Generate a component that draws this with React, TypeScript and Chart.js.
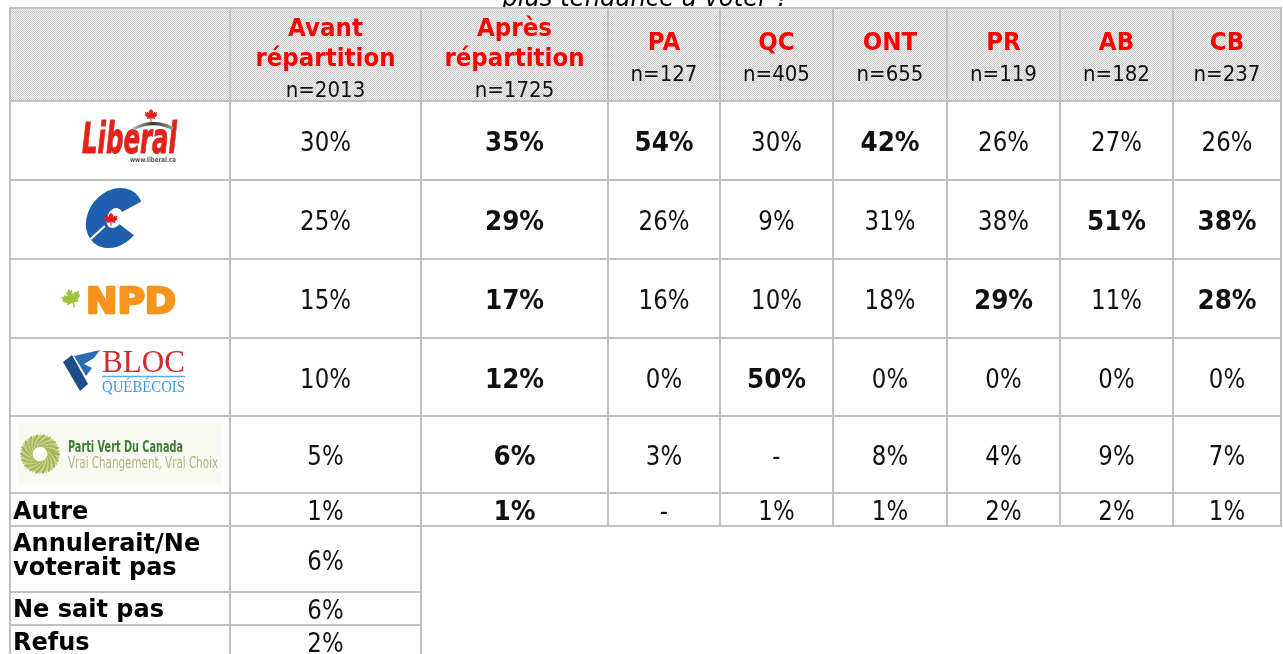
import React, { useEffect, useRef } from "react";
import { Chart, registerables } from "chart.js";

Chart.register(...registerables);

// ---------------- DATA ----------------
const title = "plus tendance à voter ?";
const columnHeaders: string[][] = [
  ["Avant", "répartition"],
  ["Après", "répartition"],
  ["PA"],
  ["QC"],
  ["ONT"],
  ["PR"],
  ["AB"],
  ["CB"],
];
const sampleSizes = [2013, 1725, 127, 405, 655, 119, 182, 237];
const parties = ["Libéral", "Conservateur", "NPD", "Bloc Québécois", "Parti Vert", "Autre"];
const avantRepartition = [30, 25, 15, 10, 5, 1];
const apresRepartition = [35, 29, 17, 12, 6, 1];
const pa = [54, 26, 16, 0, 3, null];
const qc = [30, 9, 10, 50, null, 1];
const ont = [42, 31, 18, 0, 8, 1];
const pr = [26, 38, 29, 0, 4, 2];
const ab = [27, 51, 11, 0, 9, 2];
const cb = [26, 38, 28, 0, 7, 1];
const otherLabels: string[][] = [["Annulerait/Ne", "voterait pas"], ["Ne sait pas"], ["Refus"]];
const otherValues = [6, 6, 2];
// [column index, party index] of values shown in bold (column 1 entirely bold)
const boldColumn = 1;
const boldCells: [number, number][] = [[2, 0], [4, 0], [6, 1], [7, 1], [5, 2], [7, 2], [3, 3]];

const series = [avantRepartition, apresRepartition, pa, qc, ont, pr, ab, cb];

// ---------------- LAYOUT ----------------
const W = 1283;
const H = 654;
const LEFT = 10;
const TOP = 8;
const COL_WIDTHS = [220, 191, 187, 112, 113, 114, 113, 113, 108];
const ROW_HEIGHTS = [93, 79, 79, 79, 78, 77, 33, 66, 33, 33];

function edges(start: number, sizes: number[]) {
  const out = [start];
  sizes.forEach((s) => out.push(out[out.length - 1] + s));
  return out;
}
const colEdges = edges(LEFT, COL_WIDTHS);
const rowEdges = edges(TOP, ROW_HEIGHTS);
const colMid = (c: number) => (colEdges[c] + colEdges[c + 1]) / 2;
const rowMid = (r: number) => (rowEdges[r] + rowEdges[r + 1]) / 2;

type Cell = { x: number; y: number; text: string; bold: boolean };
const cells: Cell[] = [];
series.forEach((vals, c) => {
  vals.forEach((v, r) => {
    const bold = c === boldColumn || boldCells.some(([bc, br]) => bc === c && br === r);
    cells.push({ x: colMid(c + 1), y: rowMid(r + 1), text: v === null ? "-" : `${v}%`, bold });
  });
});
otherValues.forEach((v, i) => {
  cells.push({ x: colMid(1), y: rowMid(7 + i), text: `${v}%`, bold: false });
});

// ---------------- DRAW HELPERS ----------------
const FAMILY = "'DejaVu Sans', Tahoma, Verdana, sans-serif";
const SERIF = "'Liberation Serif', 'DejaVu Serif', serif";

function txt(
  ctx: CanvasRenderingContext2D,
  s: string,
  x: number,
  y: number,
  font: string,
  color: string,
  align: CanvasTextAlign,
  sx = 1,
  fitWidth?: number,
  strokeW = 0
) {
  ctx.save();
  ctx.font = font;
  ctx.fillStyle = color;
  ctx.textBaseline = "alphabetic";
  ctx.textAlign = align;
  let scale = sx;
  if (fitWidth) scale = fitWidth / ctx.measureText(s).width;
  ctx.translate(x, y);
  ctx.scale(scale, 1);
  ctx.fillText(s, 0, 0);
  if (strokeW > 0) {
    ctx.strokeStyle = color;
    ctx.lineWidth = strokeW;
    ctx.lineJoin = "round";
    ctx.strokeText(s, 0, 0);
  }
  ctx.restore();
}

const LEAF = [
  [0, -1], [0.13, -0.72], [0.28, -0.8], [0.22, -0.38], [0.46, -0.62], [0.52, -0.48], [0.8, -0.55],
  [0.68, -0.28], [0.82, -0.18], [0.45, 0.12], [0.52, 0.3], [0.06, 0.22], [0.06, 0.65], [-0.06, 0.65],
  [-0.06, 0.22], [-0.52, 0.3], [-0.45, 0.12], [-0.82, -0.18], [-0.68, -0.28], [-0.8, -0.55],
  [-0.52, -0.48], [-0.46, -0.62], [-0.22, -0.38], [-0.28, -0.8], [-0.13, -0.72],
];
function leaf(ctx: CanvasRenderingContext2D, x: number, y: number, s: number, color: string, rot = 0) {
  ctx.save();
  ctx.translate(x, y);
  ctx.rotate(rot);
  ctx.beginPath();
  LEAF.forEach(([a, b], i) => (i ? ctx.lineTo(a * s, b * s) : ctx.moveTo(a * s, b * s)));
  ctx.closePath();
  ctx.fillStyle = color;
  ctx.fill();
  ctx.restore();
}
function poly(ctx: CanvasRenderingContext2D, cx: number, cy: number, pts: number[][], color: string) {
  ctx.beginPath();
  pts.forEach(([a, b], i) => (i ? ctx.lineTo(cx + a, cy + b) : ctx.moveTo(cx + a, cy + b)));
  ctx.closePath();
  ctx.fillStyle = color;
  ctx.fill();
}

function drawLogo(ctx: CanvasRenderingContext2D, idx: number, cx: number, cy: number) {
  if (idx === 0) {
    // Liberal
    txt(ctx, "Liberal", cx - 38, cy + 12.5, `italic bold 42px ${FAMILY}`, "#e2231a", "left", 1, 95, 1);
    const g = ctx.createLinearGradient(cx + 13, 0, cx + 53, 0);
    g.addColorStop(0, "#bbbbbb");
    g.addColorStop(0.5, "#333333");
    g.addColorStop(1, "#999999");
    ctx.save();
    ctx.strokeStyle = g;
    ctx.lineWidth = 3;
    ctx.beginPath();
    ctx.moveTo(cx + 13, cy - 11.5);
    ctx.quadraticCurveTo(cx + 33, cy - 22, cx + 53, cy - 12);
    ctx.stroke();
    ctx.restore();
    leaf(ctx, cx + 31, cy - 24, 8, "#e2231a");
    txt(ctx, "www.liberal.ca", cx + 10, cy + 21, `bold 7px ${FAMILY}`, "#555", "left", 1, 46);
  } else if (idx === 1) {
    // Conservative
    ctx.save();
    ctx.translate(cx - 5.5, cy - 1.5);
    ctx.transform(1, 0, -0.2, 1, 0, 0);
    ctx.strokeStyle = "#1f5fae";
    ctx.lineWidth = 20;
    ctx.lineCap = "butt";
    ctx.beginPath();
    ctx.ellipse(0, 0, 18, 20, 0, -0.19 * Math.PI, 0.2 * Math.PI, true);
    ctx.stroke();
    ctx.strokeStyle = "#ffffff";
    ctx.lineWidth = 2.5;
    ctx.beginPath();
    ctx.moveTo(-8, 8);
    ctx.lineTo(-26, 28);
    ctx.stroke();
    ctx.restore();
    leaf(ctx, cx - 9, cy + 1, 8.5, "#e31b23");
  } else if (idx === 2) {
    // NPD
    leaf(ctx, cx - 48, cy + 1.5, 12, "#9cc33b", -0.35);
    txt(ctx, "NPD", cx - 34, cy + 14.5, `bold 35px ${FAMILY}`, "#f7941d", "left", 1, 90, 2.5);
  } else if (idx === 3) {
    // Bloc
    poly(ctx, cx, cy, [[-57, -15], [-48, -22], [-32, 7], [-40, 14]], "#1d4e89");
    poly(ctx, cx, cy, [[-46, -21], [-20, -27], [-26, -19], [-36, -13], [-28, -9], [-34, -1]], "#2a6db5");
    txt(ctx, "BLOC", cx - 18, cy - 5, `32px ${SERIF}`, "#d3282e", "left", 1, 83);
    ctx.save();
    ctx.strokeStyle = "#5aaee6";
    ctx.lineWidth = 1.5;
    ctx.beginPath();
    ctx.moveTo(cx - 18, cy - 0.5);
    ctx.lineTo(cx + 65, cy - 0.5);
    ctx.stroke();
    ctx.restore();
    txt(ctx, "QUÉBÉCOIS", cx - 18, cy + 15, `17px ${SERIF}`, "#3a9be0", "left", 1, 83);
  } else if (idx === 4) {
    // Parti Vert
    ctx.save();
    ctx.fillStyle = "#f9f9f3";
    ctx.fillRect(cx - 102, cy - 31, 204, 60);
    const sx0 = cx - 80;
    const sy0 = cy - 0.5;
    for (let i = 0; i < 36; i++) {
      const a = (i * Math.PI * 2) / 36;
      ctx.save();
      ctx.translate(sx0, sy0);
      ctx.rotate(a);
      ctx.beginPath();
      ctx.ellipse(13, 0, 8, 2.2, 0.6, 0, Math.PI * 2);
      ctx.fillStyle = i % 2 ? "#a3b655" : "#c6d18c";
      ctx.fill();
      ctx.restore();
    }
    ctx.beginPath();
    ctx.arc(sx0, sy0, 4, 0, Math.PI * 2);
    ctx.fillStyle = "#ffffff";
    ctx.fill();
    ctx.restore();
    txt(ctx, "Parti Vert Du Canada", cx - 52, cy - 2.5, `bold 15px ${FAMILY}`, "#3c7d34", "left", 1, 115);
    txt(ctx, "Vrai Changement, Vrai Choix", cx - 52, cy + 13.5, `15px ${FAMILY}`, "#a8b87a", "left", 1, 150);
  }
}

// ---------------- PLUGIN ----------------
const tablePlugin = {
  id: "tableDraw",
  beforeDraw(chart: any) {
    const ctx: CanvasRenderingContext2D = chart.ctx;
    ctx.save();
    ctx.fillStyle = "#ffffff";
    ctx.fillRect(0, 0, chart.width, chart.height);
    ctx.restore();
  },
  afterDatasetsDraw(chart: any) {
    const ctx: CanvasRenderingContext2D = chart.ctx;
    const xs = chart.scales.x;
    const ys = chart.scales.y;
    const X = (v: number) => xs.getPixelForValue(v);
    const Y = (v: number) => ys.getPixelForValue(v);
    const lastCol = colEdges.length - 1;

    // title (cropped at top)
    txt(ctx, title, X((colEdges[0] + colEdges[lastCol]) / 2), Y(TOP - 2.5), `italic 27px ${FAMILY}`, "#000", "center", 0.9);

    // header background pattern
    const pc = document.createElement("canvas");
    pc.width = 2;
    pc.height = 2;
    const pctx = pc.getContext("2d")!;
    pctx.fillStyle = "#f5f5f5";
    pctx.fillRect(0, 0, 2, 2);
    pctx.fillStyle = "#cbcbcb";
    pctx.fillRect(0, 0, 1, 1);
    pctx.fillRect(1, 1, 1, 1);
    const pat = ctx.createPattern(pc, "repeat")!;
    ctx.save();
    ctx.fillStyle = pat;
    ctx.fillRect(X(colEdges[0]), Y(rowEdges[0]), X(colEdges[lastCol]) - X(colEdges[0]), Y(rowEdges[1]) - Y(rowEdges[0]));
    ctx.restore();

    // grid lines
    ctx.save();
    ctx.fillStyle = "#c0c0c0";
    const hLine = (y: number, x1: number, x2: number) => ctx.fillRect(X(x1) - 1, Y(y) - 1, X(x2) - X(x1) + 2, 2);
    const vLine = (x: number, y1: number, y2: number) => ctx.fillRect(X(x) - 1, Y(y1) - 1, 2, Y(y2) - Y(y1) + 2);
    for (let r = 0; r <= 7; r++) hLine(rowEdges[r], colEdges[0], colEdges[lastCol]);
    for (let r = 8; r < rowEdges.length; r++) hLine(rowEdges[r], colEdges[0], colEdges[2]);
    for (let c = 0; c <= 2; c++) vLine(colEdges[c], rowEdges[0], rowEdges[rowEdges.length - 1]);
    for (let c = 3; c <= lastCol; c++) vLine(colEdges[c], rowEdges[0], rowEdges[7]);
    ctx.restore();

    // header texts
    const hc = rowMid(0);
    columnHeaders.forEach((lines, i) => {
      const x = X(colMid(i + 1));
      const k = lines.length + 1;
      const lastBase = hc + 10.5 + 16 * (k - 1);
      txt(ctx, `n=${sampleSizes[i]}`, x, Y(lastBase), `22px ${FAMILY}`, "#111", "center", 0.9);
      lines.forEach((l, j) => {
        const base = lastBase - 31 - 30 * (lines.length - 1 - j);
        txt(ctx, l, x, Y(base), `bold 25px ${FAMILY}`, "#ff0000", "center", 0.92);
      });
    });

    // party logos
    for (let p = 0; p < 5; p++) drawLogo(ctx, p, X(colMid(0)), Y(rowMid(p + 1)));

    // text row labels
    const labelX = X(colEdges[0] + 3);
    const labelFont = `bold 24px ${FAMILY}`;
    txt(ctx, parties[5], labelX, Y(rowMid(6) + 9), labelFont, "#000", "left");
    otherLabels.forEach((lines, i) => {
      const cy = rowMid(7 + i);
      if (lines.length === 2) {
        txt(ctx, lines[0], labelX, Y(cy - 8), labelFont, "#000", "left");
        txt(ctx, lines[1], labelX, Y(cy + 16), labelFont, "#000", "left");
      } else {
        txt(ctx, lines[0], labelX, Y(cy + 8.5), labelFont, "#000", "left");
      }
    });

    // values, positioned by the dataset points
    const meta = chart.getDatasetMeta(0);
    meta.data.forEach((pt: any, i: number) => {
      const c = cells[i];
      txt(
        ctx,
        c.text,
        pt.x,
        pt.y + 10.5,
        c.bold ? `bold 26px ${FAMILY}` : `26px ${FAMILY}`,
        "#111",
        "center",
        c.bold ? 0.95 : 0.88
      );
    });
  },
};

export default function App() {
  const ref = useRef<HTMLCanvasElement | null>(null);
  useEffect(() => {
    if (!ref.current) return;
    const chart = new Chart(ref.current, {
      type: "scatter",
      data: {
        datasets: [
          {
            data: cells.map((c) => ({ x: c.x, y: c.y })),
            pointRadius: 0,
            pointHoverRadius: 0,
            showLine: false,
          },
        ],
      },
      options: {
        responsive: false,
        maintainAspectRatio: false,
        animation: false,
        events: [],
        layout: { padding: 0 },
        scales: {
          x: { type: "linear", display: false, min: 0, max: W },
          y: { type: "linear", display: false, min: 0, max: H, reverse: true },
        },
        plugins: { legend: { display: false }, tooltip: { enabled: false }, title: { display: false } },
      },
      plugins: [tablePlugin],
    } as any);
    return () => chart.destroy();
  }, []);
  return (
    <div style={{ position: "fixed", left: 0, top: 0, width: W, height: H, background: "#fff" }}>
      <canvas ref={ref} width={W} height={H} style={{ display: "block" }} />
    </div>
  );
}
